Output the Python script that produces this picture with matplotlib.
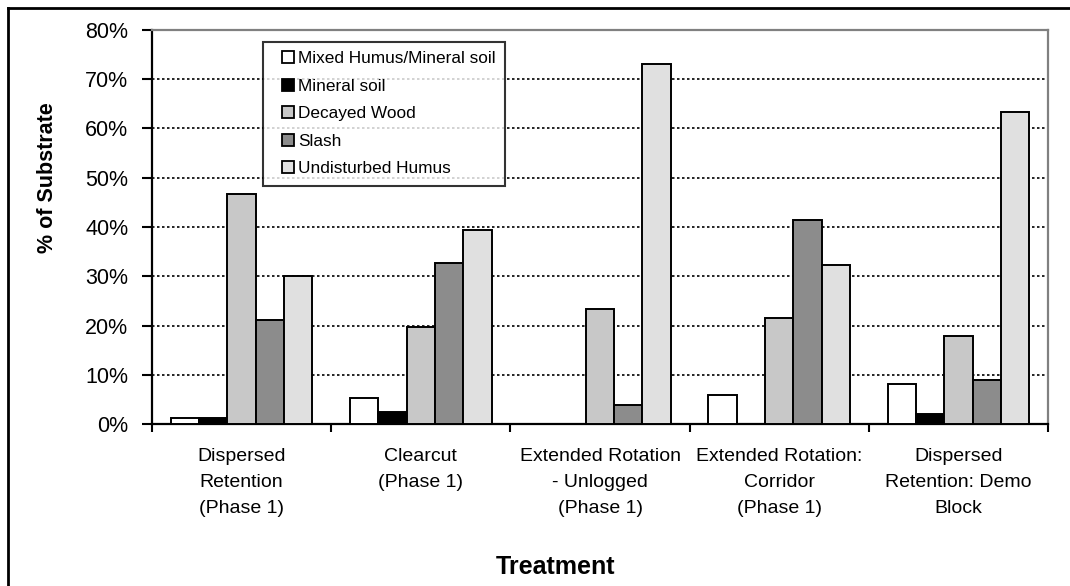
import numpy as np
import matplotlib.pyplot as plt
from matplotlib.lines import Line2D
from matplotlib.ticker import PercentFormatter

plt.rcParams['font.family'] = ['Liberation Sans', 'DejaVu Sans']

treatments = ["Dispersed\nRetention\n(Phase 1)",
              "Clearcut\n(Phase 1)",
              "Extended Rotation\n- Unlogged\n(Phase 1)",
              "Extended Rotation:\nCorridor\n(Phase 1)",
              "Dispersed\nRetention: Demo\nBlock"]
series = ["Mixed Humus/Mineral soil", "Mineral soil", "Decayed Wood",
          "Slash", "Undisturbed Humus"]
mixed = [1.2, 5.3, 0.0, 5.8, 8.1]
mineral = [1.2, 2.5, 0.0, 0.0, 2.0]
decayed = [46.6, 19.6, 23.4, 21.6, 17.9]
slash = [21.2, 32.6, 3.8, 41.4, 9.0]
undisturbed = [30.1, 39.4, 73.1, 32.2, 63.4]
values = [mixed, mineral, decayed, slash, undisturbed]
colors = ["#ffffff", "#000000", "#c8c8c8", "#8c8c8c", "#e0e0e0"]

fig = plt.figure(figsize=(10.7, 5.86), dpi=100)
ax = fig.add_axes([152 / 1070, 1 - 424 / 586, 896 / 1070, 394 / 586])

x = np.arange(len(treatments))
w = 0.158
for i, (vals, name, c) in enumerate(zip(values, series, colors)):
    ax.bar(x + (i - 2) * w, vals, w, color=c, edgecolor='black',
           linewidth=1.4, label=name, zorder=3)

ax.set_xlim(-0.5, len(treatments) - 0.5)
ax.set_ylim(0, 80)
ax.set_yticks(np.arange(0, 81, 10))
ax.yaxis.set_major_formatter(PercentFormatter(decimals=0))
for yv in range(10, 80, 10):
    ax.axhline(yv, color='black', linestyle=(0, (1.5, 1.5)), linewidth=1.2, zorder=1)

ax.set_xticks(x)
ax.set_xticklabels(treatments, fontsize=14, linespacing=1.7)
ax.set_xticks(np.arange(-0.5, len(treatments)), minor=True)
ax.tick_params(axis='x', which='major', length=0, pad=17)
ax.tick_params(axis='x', which='minor', length=6, width=1.5, direction='out')
ax.tick_params(axis='y', length=7, width=1.5, direction='out', labelsize=15.5, pad=10)

for side in ['left', 'bottom']:
    ax.spines[side].set_linewidth(1.6)
    ax.spines[side].set_color('black')
for side in ['top', 'right']:
    ax.spines[side].set_linewidth(1.6)
    ax.spines[side].set_color('#808080')

handles = [Line2D([], [], linestyle='none', marker='s', markersize=8.5,
                  markerfacecolor=c, markeredgecolor='black', markeredgewidth=1.3)
           for c in colors]
leg = ax.legend(handles, series, loc='upper left', bbox_to_anchor=(0.124, 0.97),
                fontsize=12.4, frameon=True, fancybox=False, edgecolor='black',
                handlelength=1.74, handletextpad=-0.25,
                labelspacing=0.72, borderpad=0.55, borderaxespad=0)
leg.get_frame().set_linewidth(1.5)
leg.set_zorder(5)

fig.text(48 / 1070, 1 - 178 / 586, "% of Substrate", rotation=90,
         ha='center', va='center', fontsize=15.5, fontweight='bold')
fig.text(556 / 1070, 1 - 567 / 586, "Treatment", ha='center', va='center',
         fontsize=18, fontweight='bold')

fig.add_artist(Line2D([7.5 / 1070, 7.5 / 1070], [0, 1 - 7.5 / 586],
                      color='black', linewidth=2))
fig.add_artist(Line2D([7.5 / 1070, 1], [1 - 7.5 / 586, 1 - 7.5 / 586],
                      color='black', linewidth=2))

fig.savefig('out.png', dpi=100)
